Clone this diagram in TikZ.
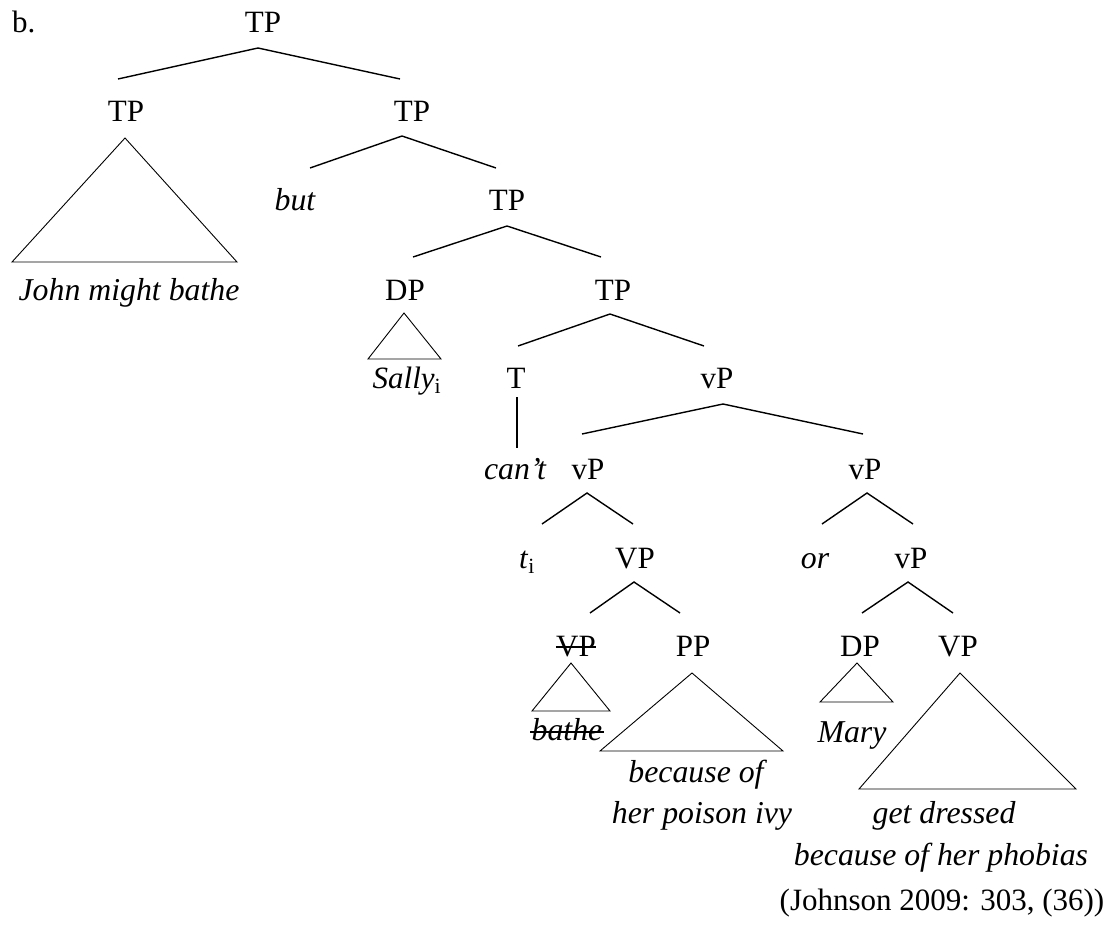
\documentclass[tikz,border=0pt]{standalone}
\usepackage{fontspec}
\setmainfont{Liberation Serif}
\begin{document}
\begin{tikzpicture}[x=1pt,y=-1pt,
  lbl/.style={inner sep=0pt, anchor=base, font=\fontsize{31}{37}\selectfont},
  itl/.style={lbl, font=\fontsize{31.8}{38}\selectfont\itshape},
  branch/.style={line width=1.4pt},
  tri/.style={line width=0.9pt},
  strike/.style={line width=1.4pt}]
\useasboundingbox (0,0) rectangle (1110,928);
% labels
\node[lbl, anchor=base west] (ex) at (12,33) {b.};
\node[lbl] (root) at (263,33) {TP};
\node[lbl] (tpL) at (126,122) {TP};
\node[lbl] (tpR) at (412,122) {TP};
\node[itl] (but) at (295,210) {but};
\node[lbl] (tp3) at (507,210) {TP};
\node[lbl] (dp1) at (405,300) {DP};
\node[lbl] (tp4) at (613,300) {TP};
\node[lbl] (t) at (516,388) {T};
\node[lbl] (vp1) at (717,388) {vP};
\node[lbl] (sally) at (407,388) {\textit{Sally}\textsubscript{i}};
\node[itl] (cant) at (515,479) {can’t};
\node[lbl] (vp2) at (588,479) {vP};
\node[lbl] (vp3) at (865,479) {vP};
\node[lbl] (ti) at (527,568) {\textit{t}\textsubscript{i}};
\node[lbl] (VP1) at (635,568) {VP};
\node[itl] (or) at (815,568) {or};
\node[lbl] (vp4) at (911,568) {vP};
\node[lbl] (VPdel) at (576,656) {VP};
\node[lbl] (pp) at (693,656) {PP};
\node[lbl] (dp2) at (860,656) {DP};
\node[lbl] (VP2) at (958,656) {VP};
\node[itl] (bathe) at (567,740) {bathe};
\node[itl] (mary) at (852,742) {Mary};
\node[itl] (john) at (129,300) {John might bathe};
\node[itl] (bec1) at (696,782) {because of};
\node[itl] (bec2) at (702,823) {her poison ivy};
\node[itl] (gd1) at (944,823) {get dressed};
\node[itl] (gd2) at (941,865) {because of her phobias};
\node[lbl] (cite) at (942,910) {(Johnson 2009: 303, (36))};
% strike-throughs
\draw[strike] ([yshift=9pt]VPdel.base west) -- ([yshift=9pt]VPdel.base east);
\draw[strike] ([yshift=8pt,xshift=-1pt]bathe.base west) -- ([yshift=8pt,xshift=1pt]bathe.base east);
% branch points
\coordinate (root-d) at (258,48);
\coordinate (tpL-u) at (118,79);
\coordinate (tpR-u) at (400,79);
\coordinate (tpR-d) at (402,136);
\coordinate (but-u) at (310,168);
\coordinate (tp3-u) at (496,168);
\coordinate (tp3-d) at (507,226);
\coordinate (dp1-u) at (413,257);
\coordinate (tp4-u) at (601,257);
\coordinate (tp4-d) at (610,314);
\coordinate (t-u) at (518,346);
\coordinate (vp1-u) at (704,346);
\coordinate (t-d) at (517,397);
\coordinate (cant-u) at (517,448);
\coordinate (vp1-d) at (723,404);
\coordinate (vp2-u) at (582,434);
\coordinate (vp3-u) at (863,434);
\coordinate (vp2-d) at (587,493);
\coordinate (ti-u) at (542,524);
\coordinate (VP1-u) at (633,524);
\coordinate (vp3-d) at (867,493);
\coordinate (or-u) at (822,524);
\coordinate (vp4-u) at (913,524);
\coordinate (VP1-d) at (634,582);
\coordinate (VPdel-u) at (590,613);
\coordinate (pp-u) at (680,613);
\coordinate (vp4-d) at (908,582);
\coordinate (dp2-u) at (862,613);
\coordinate (VP2-u) at (953,613);
% branches
\draw[branch] (tpL-u) -- (root-d) -- (tpR-u);
\draw[branch] (but-u) -- (tpR-d) -- (tp3-u);
\draw[branch] (dp1-u) -- (tp3-d) -- (tp4-u);
\draw[branch] (t-u) -- (tp4-d) -- (vp1-u);
\draw[branch] (t-d) -- (cant-u);
\draw[branch] (vp2-u) -- (vp1-d) -- (vp3-u);
\draw[branch] (ti-u) -- (vp2-d) -- (VP1-u);
\draw[branch] (or-u) -- (vp3-d) -- (vp4-u);
\draw[branch] (VPdel-u) -- (VP1-d) -- (pp-u);
\draw[branch] (dp2-u) -- (vp4-d) -- (VP2-u);
% triangles
\coordinate (triA-t) at (125,138);
\coordinate (triA-l) at (12,262);
\coordinate (triA-r) at (237,262);
\draw[tri] (triA-t) -- (triA-l) -- (triA-r) -- cycle;
\coordinate (triB-t) at (404,313);
\coordinate (triB-l) at (368,359);
\coordinate (triB-r) at (441,359);
\draw[tri] (triB-t) -- (triB-l) -- (triB-r) -- cycle;
\coordinate (triC-t) at (571,663);
\coordinate (triC-l) at (532,711);
\coordinate (triC-r) at (610,711);
\draw[tri] (triC-t) -- (triC-l) -- (triC-r) -- cycle;
\coordinate (triD-t) at (692,673);
\coordinate (triD-l) at (600,751);
\coordinate (triD-r) at (783,751);
\draw[tri] (triD-t) -- (triD-l) -- (triD-r) -- cycle;
\coordinate (triE-t) at (857,663);
\coordinate (triE-l) at (820,702);
\coordinate (triE-r) at (893,702);
\draw[tri] (triE-t) -- (triE-l) -- (triE-r) -- cycle;
\coordinate (triF-t) at (960,673);
\coordinate (triF-l) at (859,789);
\coordinate (triF-r) at (1076,789);
\draw[tri] (triF-t) -- (triF-l) -- (triF-r) -- cycle;
\end{tikzpicture}
\end{document}
